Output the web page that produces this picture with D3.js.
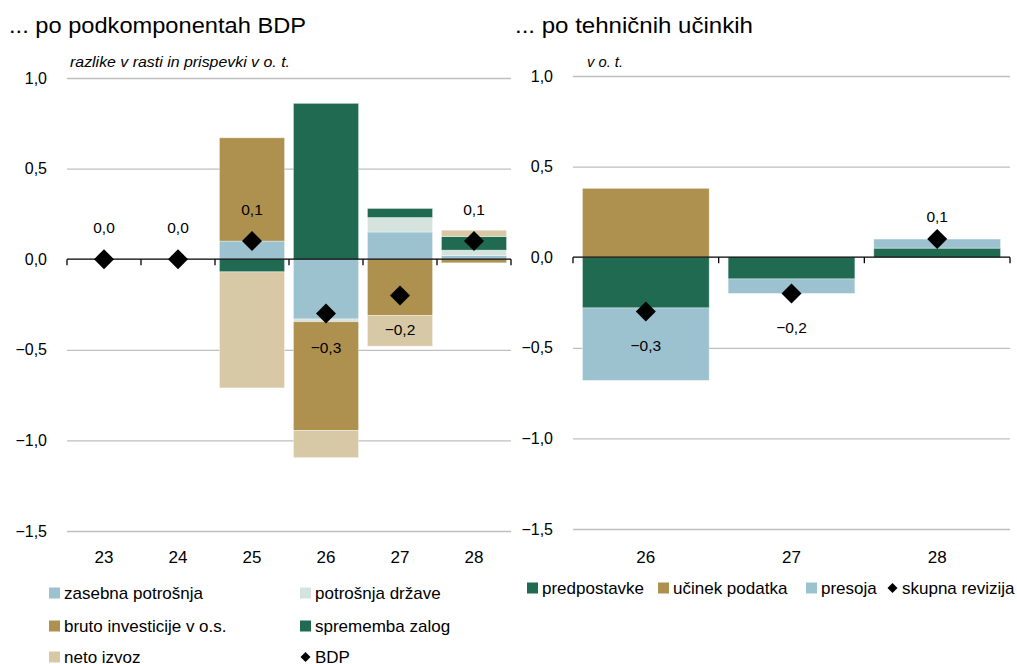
<!DOCTYPE html>
<html>
<head>
<meta charset="utf-8">
<script src="https://cdn.jsdelivr.net/npm/d3@7"></script>
<style>
  body { margin: 0; background: #fff; }
  svg { font-family: "Liberation Sans", Arial, sans-serif; }
</style>
</head>
<body>
<div id="wrapper"></div>
<script>
// left panel: po podkomponentah BDP
const leftCats = ["23", "24", "25", "26", "27", "28"];
const zasebna = [0, 0, 0.10, -0.33, 0.15, 0.02];
const drzava = [0, 0, 0, -0.015, 0.08, 0.03];
const bruto = [0, 0, 0.57, -0.60, -0.31, -0.02];
const zalogi = [0, 0, -0.07, 0.86, 0.05, 0.075];
const netoIzvoz = [0, 0, -0.64, -0.15, -0.17, 0.035];
const bdp = [0.0, 0.0, 0.1, -0.3, -0.2, 0.1];

// right panel: po tehničnih učinkih
const rightCats = ["26", "27", "28"];
const predpostavke = [-0.28, -0.12, 0.05];
const ucinek = [0.38, 0, 0];
const presoja = [-0.40, -0.08, 0.05];
const skupna = [-0.3, -0.2, 0.1];

const yTicks = [1.0, 0.5, 0.0, -0.5, -1.0, -1.5];

const leftSeries = [
    {key: "zasebna potrošnja", values: zasebna, color: "#9cc1cf"},
    {key: "potrošnja države", values: drzava, color: "#d4e3de"},
    {key: "bruto investicije v o.s.", values: bruto, color: "#af914f"},
    {key: "sprememba zalog", values: zalogi, color: "#206a51"},
    {key: "neto izvoz", values: netoIzvoz, color: "#d8c9a6"}
];
const rightSeries = [
    {key: "predpostavke", values: predpostavke, color: "#206a51"},
    {key: "učinek podatka", values: ucinek, color: "#af914f"},
    {key: "presoja", values: presoja, color: "#9cc1cf"}
];

const fmt = v => d3.format(".1f")(v).replace(".", ",").replace("-", "\u2212");
const labelFmt = v => d3.format(".1f")(v).replace(".", ",").replace("-", "\u2013");

const svg = d3.select("#wrapper").append("svg")
    .attr("width", 1017)
    .attr("height", 664);

function panel(opts) {
    const x = d3.scaleBand()
        .domain(opts.cats)
        .range([opts.x0, opts.x1])
        .paddingInner(opts.pad)
        .paddingOuter(opts.pad / 2);
    const y = d3.scaleLinear().domain([-1.5, 1.0]).range([opts.yBottom, opts.yTop]);

    const g = svg.append("g");

    // grid + y labels
    const yAxis = g.append("g")
        .attr("transform", `translate(${opts.x0},0)`)
        .call(d3.axisLeft(y).tickValues(yTicks).tickSize(-(opts.x1 - opts.x0)).tickPadding(20).tickFormat(fmt));
    yAxis.select(".domain").remove();
    yAxis.selectAll("line")
        .attr("stroke", d => d === 0 ? "none" : "#bfbfbf")
        .attr("stroke-width", 1.3);
    yAxis.selectAll("text")
        .attr("font-size", 16)
        .attr("fill", "#000");

    // stacked bars
    const table = opts.cats.map((c, i) => {
        const row = {cat: c};
        opts.series.forEach(s => row[s.key] = s.values[i]);
        return row;
    });
    const stacked = d3.stack()
        .keys(opts.series.map(s => s.key))
        .offset(d3.stackOffsetDiverging)(table);

    g.append("g").selectAll("g")
        .data(stacked)
        .join("g")
        .attr("fill", (d, i) => opts.series[i].color)
        .selectAll("rect")
        .data(d => d.filter(p => p[1] - p[0] !== 0))
        .join("rect")
        .attr("x", d => x(d.data.cat))
        .attr("width", x.bandwidth())
        .attr("y", d => y(Math.max(d[0], d[1])))
        .attr("height", d => Math.abs(y(d[0]) - y(d[1])))
        .attr("stroke", "#fff")
        .attr("stroke-opacity", 0.45)
        .attr("stroke-width", 0.8);

    // zero line with category ticks
    const y0 = y(0);
    g.append("line")
        .attr("x1", opts.x0).attr("x2", opts.x1)
        .attr("y1", y0).attr("y2", y0)
        .attr("stroke", "#000").attr("stroke-width", 1.3);
    const bounds = opts.cats.map(c => x(c) - x.step() * opts.pad / 2).concat([opts.x1]);
    g.append("g").selectAll("line")
        .data(bounds)
        .join("line")
        .attr("x1", d => d).attr("x2", d => d)
        .attr("y1", y0).attr("y2", y0 + 6)
        .attr("stroke", "#000").attr("stroke-width", 1.3);

    // x labels
    g.append("g").selectAll("text")
        .data(opts.cats)
        .join("text")
        .attr("x", d => x(d) + x.bandwidth() / 2)
        .attr("y", 557)
        .attr("dy", "0.35em")
        .attr("text-anchor", "middle")
        .attr("font-size", 17)
        .text(d => d);

    // total markers
    const cx = c => x(c) + x.bandwidth() / 2;
    g.append("g").selectAll("path")
        .data(opts.total)
        .join("path")
        .attr("d", d3.symbol(d3.symbolSquare, 200))
        .attr("transform", (d, i) => `translate(${cx(opts.cats[i])},${y(d)}) rotate(45)`)
        .attr("fill", "#000");

    g.append("g").selectAll("text")
        .data(opts.total)
        .join("text")
        .attr("x", (d, i) => cx(opts.cats[i]))
        .attr("y", d => y(d) + (d < 0 ? 34 : opts.posOffset))
        .attr("dy", "0.35em")
        .attr("text-anchor", "middle")
        .attr("font-size", 15.5)
        .text(d => labelFmt(d));

    // titles
    svg.append("text")
        .attr("x", opts.titleX).attr("y", 33)
        .attr("font-size", 22)
        .attr("textLength", opts.titleW)
        .attr("lengthAdjust", "spacingAndGlyphs")
        .text(opts.title);
    svg.append("text")
        .attr("x", opts.unitX).attr("y", 67)
        .attr("font-size", 15)
        .attr("font-style", "italic")
        .attr("textLength", opts.unitW)
        .attr("lengthAdjust", "spacingAndGlyphs")
        .text(opts.unit);
}

panel({
    cats: leftCats, series: leftSeries, total: bdp,
    x0: 67, x1: 511, yTop: 78, yBottom: 531, pad: 0.12, posOffset: -32,
    title: "... po podkomponentah BDP", titleX: 9, titleW: 297,
    unit: "razlike v rasti in prispevki v o. t.", unitX: 70, unitW: 220
});
panel({
    cats: rightCats, series: rightSeries, total: skupna,
    x0: 573, x1: 1010, yTop: 76, yBottom: 529, pad: 0.13, posOffset: -23,
    title: "... po tehničnih učinkih", titleX: 515, titleW: 238,
    unit: "v o. t.", unitX: 587, unitW: 36
});

// legends
const leftLegend = leftSeries.map(s => ({key: s.key, color: s.color, type: "rect"}))
    .concat([{key: "BDP", color: "#000", type: "diamond"}]);
const legPos = [[49, 593], [300, 593], [49, 626], [300, 626], [49, 657], [300, 657]];
const legendL = svg.append("g").selectAll("g")
    .data(leftLegend)
    .join("g")
    .attr("transform", (d, i) => `translate(${legPos[i][0]},${legPos[i][1]})`);

const rightLegend = rightSeries.map(s => ({key: s.key, color: s.color, type: "rect"}))
    .concat([{key: "skupna revizija", color: "#000", type: "diamond"}]);
const rightX = [527, 658, 806, 887];
const legendR = svg.append("g").selectAll("g")
    .data(rightLegend)
    .join("g")
    .attr("transform", (d, i) => `translate(${rightX[i]},588)`);

[legendL, legendR].forEach(lg => {
    lg.each(function(d) {
        const el = d3.select(this);
        if (d.type === "rect") {
            el.append("rect")
                .attr("x", 0).attr("y", -5.5)
                .attr("width", 11).attr("height", 11)
                .attr("fill", d.color);
        } else {
            el.append("path")
                .attr("d", d3.symbol(d3.symbolSquare, 50))
                .attr("transform", "translate(5.5,0) rotate(45)")
                .attr("fill", d.color);
        }
        el.append("text")
            .attr("x", 15)
            .attr("dy", "0.35em")
            .attr("font-size", 17)
            .text(d.key);
    });
});
</script>
</body>
</html>
